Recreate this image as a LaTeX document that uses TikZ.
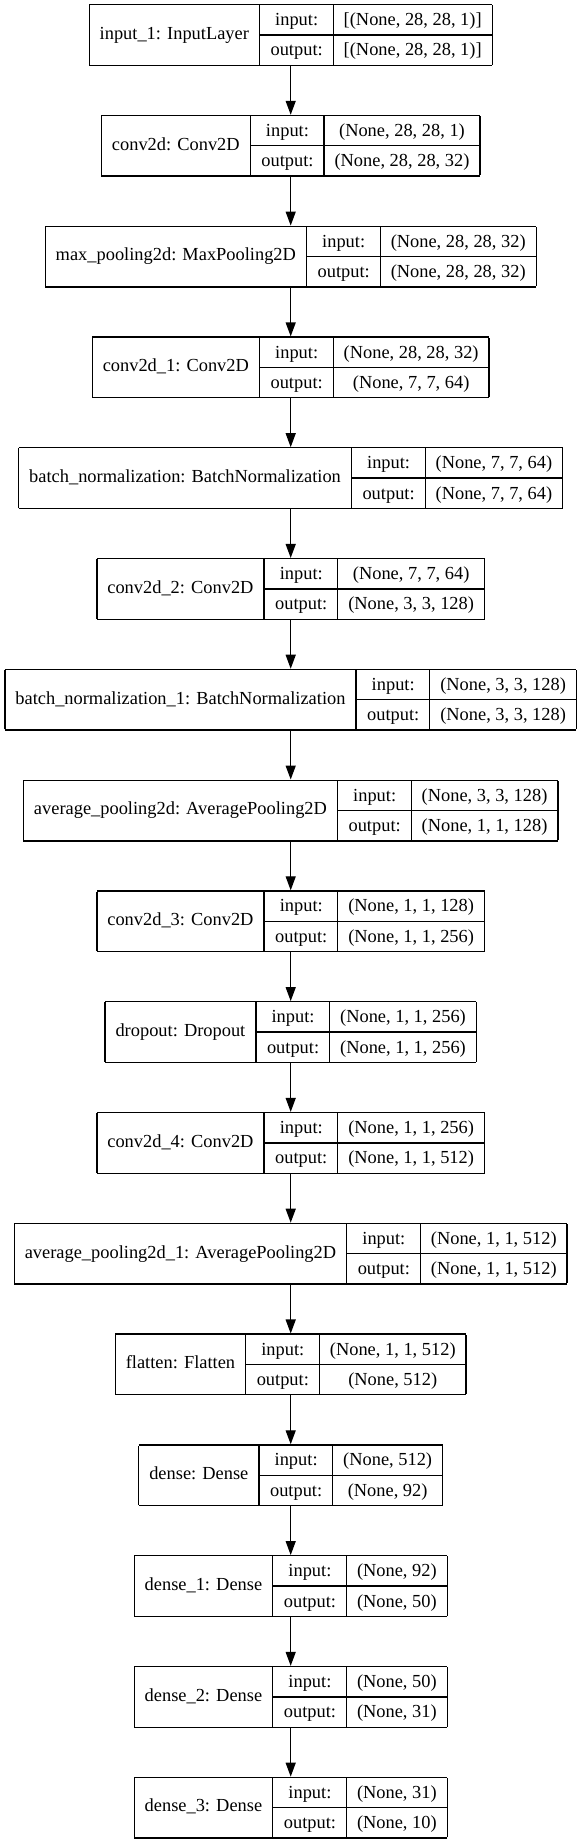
\documentclass[tikz,border=0pt]{standalone}
\usepackage{fontspec}
\setmainfont{Liberation Serif}
\usepackage{tikz}
\usetikzlibrary{arrows.meta,positioning}

\setlength{\arrayrulewidth}{1.33pt}
\setlength{\tabcolsep}{10.5pt}
\newcommand{\rowstrut}{\rule[-8.7pt]{0pt}{29pt}}
% one keras layer: name | input:/output: | shapes
\newcommand{\layerbox}[3]{%
  \begin{tabular}{|c|@{}c@{}|}\hline
    #1 & \begin{tabular}{c|c}
           \rowstrut input: & #2\\\hline
           \rowstrut output: & #3
         \end{tabular}\\\hline
  \end{tabular}}

\begin{document}
\begin{tikzpicture}[
  node distance=48.8pt,
  >={Triangle[width=10pt,length=14pt]},
  layer/.style={
    rectangle, inner sep=0pt, outer sep=0pt,
    font=\fontsize{18.4pt}{22pt}\selectfont
  },
  arrow/.style={->, line width=1.33pt, black},
]
  \useasboundingbox (0,0) rectangle (581pt,-1844pt);

  % Input and first convolutions
  \node[layer, anchor=north] (input1) at (290.7pt,-4pt)
    {\layerbox{input\_1: InputLayer}{[(None, 28, 28, 1)]}{[(None, 28, 28, 1)]}};
  \node[layer] (conv2d) [below=of input1]
    {\layerbox{conv2d: Conv2D}{(None, 28, 28, 1)}{(None, 28, 28, 32)}};
  \node[layer] (maxpool) [below=of conv2d]
    {\layerbox{max\_pooling2d: MaxPooling2D}{(None, 28, 28, 32)}{(None, 28, 28, 32)}};
  \node[layer] (conv2d1) [below=of maxpool]
    {\layerbox{conv2d\_1: Conv2D}{(None, 28, 28, 32)}{(None, 7, 7, 64)}};
  \node[layer] (batchnorm) [below=of conv2d1]
    {\layerbox{batch\_normalization: BatchNormalization}{(None, 7, 7, 64)}{(None, 7, 7, 64)}};
  \node[layer] (conv2d2) [below=of batchnorm]
    {\layerbox{conv2d\_2: Conv2D}{(None, 7, 7, 64)}{(None, 3, 3, 128)}};
  \node[layer] (batchnorm1) [below=of conv2d2]
    {\layerbox{batch\_normalization\_1: BatchNormalization}{(None, 3, 3, 128)}{(None, 3, 3, 128)}};
  \node[layer] (avgpool) [below=of batchnorm1]
    {\layerbox{average\_pooling2d: AveragePooling2D}{(None, 3, 3, 128)}{(None, 1, 1, 128)}};

  % Deeper convolutions
  \node[layer] (conv2d3) [below=of avgpool]
    {\layerbox{conv2d\_3: Conv2D}{(None, 1, 1, 128)}{(None, 1, 1, 256)}};
  \node[layer] (dropout) [below=of conv2d3]
    {\layerbox{dropout: Dropout}{(None, 1, 1, 256)}{(None, 1, 1, 256)}};
  \node[layer] (conv2d4) [below=of dropout]
    {\layerbox{conv2d\_4: Conv2D}{(None, 1, 1, 256)}{(None, 1, 1, 512)}};
  \node[layer] (avgpool1) [below=of conv2d4]
    {\layerbox{average\_pooling2d\_1: AveragePooling2D}{(None, 1, 1, 512)}{(None, 1, 1, 512)}};

  % Dense head
  \node[layer] (flatten) [below=of avgpool1]
    {\layerbox{flatten: Flatten}{(None, 1, 1, 512)}{(None, 512)}};
  \node[layer] (dense) [below=of flatten]
    {\layerbox{dense: Dense}{(None, 512)}{(None, 92)}};
  \node[layer] (dense1) [below=of dense]
    {\layerbox{dense\_1: Dense}{(None, 92)}{(None, 50)}};
  \node[layer] (dense2) [below=of dense1]
    {\layerbox{dense\_2: Dense}{(None, 50)}{(None, 31)}};
  \node[layer] (dense3) [below=of dense2]
    {\layerbox{dense\_3: Dense}{(None, 31)}{(None, 10)}};

  % Arrows
  \draw[arrow] (input1) -- (conv2d);
  \draw[arrow] (conv2d) -- (maxpool);
  \draw[arrow] (maxpool) -- (conv2d1);
  \draw[arrow] (conv2d1) -- (batchnorm);
  \draw[arrow] (batchnorm) -- (conv2d2);
  \draw[arrow] (conv2d2) -- (batchnorm1);
  \draw[arrow] (batchnorm1) -- (avgpool);
  \draw[arrow] (avgpool) -- (conv2d3);
  \draw[arrow] (conv2d3) -- (dropout);
  \draw[arrow] (dropout) -- (conv2d4);
  \draw[arrow] (conv2d4) -- (avgpool1);
  \draw[arrow] (avgpool1) -- (flatten);
  \draw[arrow] (flatten) -- (dense);
  \draw[arrow] (dense) -- (dense1);
  \draw[arrow] (dense1) -- (dense2);
  \draw[arrow] (dense2) -- (dense3);
\end{tikzpicture}
\end{document}
